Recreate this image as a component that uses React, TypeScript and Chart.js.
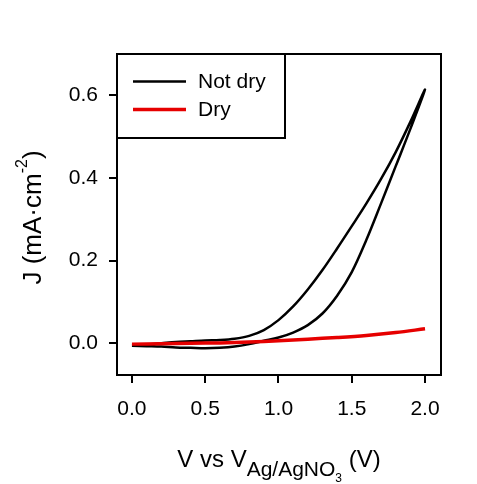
import React, { useEffect, useRef } from "react";
import { Chart, registerables } from "chart.js";

Chart.register(...registerables);

const FONT = "'Liberation Sans', Arial, sans-serif";

// Not dry: forward scan 0 -> 2 V, then reverse 2 -> 0 V
const NOT_DRY_V = [
  0, 0.1, 0.2, 0.3, 0.4, 0.5, 0.6, 0.7, 0.8, 0.9, 1.0, 1.1, 1.2, 1.3, 1.4, 1.5, 1.6, 1.7, 1.8,
  1.9, 2.0,
  1.9, 1.8, 1.7, 1.6, 1.5, 1.4, 1.3, 1.2, 1.1, 1.0, 0.9, 0.8, 0.7, 0.6, 0.5, 0.4, 0.3, 0.2, 0.1,
  0.0,
];
const NOT_DRY_J = [
  -0.006, -0.007, -0.008, -0.01, -0.011, -0.012, -0.011, -0.008, -0.002, 0.006, 0.014, 0.026,
  0.044, 0.072, 0.115, 0.172, 0.25, 0.338, 0.428, 0.518, 0.613,
  0.535, 0.462, 0.397, 0.338, 0.283, 0.229, 0.177, 0.13, 0.089, 0.056, 0.032, 0.018, 0.011, 0.008,
  0.007, 0.005, 0.003, 0.0, -0.003, -0.006,
];

// Dry
const DRY_V = [0, 0.2, 0.4, 0.6, 0.8, 1.0, 1.2, 1.4, 1.6, 1.8, 2.0];
const DRY_J = [-0.002, -0.001, 0.0, 0.001, 0.003, 0.006, 0.01, 0.014, 0.019, 0.026, 0.035];

const SERIES_LABELS = ["Not dry", "Dry"];
const SERIES_COLORS = ["#000000", "#e60000"];
const SERIES_WIDTHS = [2.5, 3.5];

const X_TICKS = [0, 0.5, 1.0, 1.5, 2.0];
const Y_TICKS = [0, 0.2, 0.4, 0.6];

const toPoints = (xs: number[], ys: number[]) => xs.map((x, i) => ({ x, y: ys[i] }));

const decorPlugin = {
  id: "decor",
  afterDraw(chart: any) {
    const { ctx, chartArea: a } = chart;
    ctx.save();
    // plot frame
    ctx.strokeStyle = "#000";
    ctx.lineWidth = 2;
    ctx.strokeRect(a.left, a.top, a.right - a.left, a.bottom - a.top);

    // legend
    const lx = a.left, ly = a.top;
    ctx.fillStyle = "#fff";
    ctx.fillRect(lx, ly, 168, 84);
    ctx.strokeRect(lx, ly, 168, 84);
    const rows = [81.5, 109.5];
    SERIES_LABELS.forEach((lab, i) => {
      ctx.strokeStyle = SERIES_COLORS[i];
      ctx.lineWidth = SERIES_WIDTHS[i];
      ctx.beginPath();
      ctx.moveTo(133, rows[i]);
      ctx.lineTo(186, rows[i]);
      ctx.stroke();
      ctx.fillStyle = "#000";
      ctx.font = `21px ${FONT}`;
      ctx.textAlign = "left";
      ctx.textBaseline = "middle";
      ctx.fillText(lab, 198, rows[i] + 1);
    });

    // x title: V vs V_{Ag/AgNO3} (V)
    ctx.fillStyle = "#000";
    ctx.textBaseline = "alphabetic";
    ctx.textAlign = "left";
    const parts = [
      { t: "V vs V", s: 24, b: 466.5 },
      { t: "Ag/AgNO", s: 21, b: 475.5 },
      { t: "3", s: 12, b: 481.5 },
      { t: " (V)", s: 24, b: 466.5 },
    ];
    let total = 0;
    parts.forEach((p) => {
      ctx.font = `${p.s}px ${FONT}`;
      total += ctx.measureText(p.t).width;
    });
    let x = (a.left + a.right) / 2 - total / 2;
    parts.forEach((p) => {
      ctx.font = `${p.s}px ${FONT}`;
      ctx.fillText(p.t, x, p.b);
      x += ctx.measureText(p.t).width;
    });

    // y title: J (mA·cm^-2)
    ctx.save();
    ctx.translate(41, 217.5);
    ctx.rotate(-Math.PI / 2);
    const yparts = [
      { t: "J (mA·cm", s: 26, r: 0 },
      { t: "-2", s: 16, r: 14 },
      { t: ")", s: 26, r: 0 },
    ];
    let yt = 0;
    yparts.forEach((p) => {
      ctx.font = `${p.s}px ${FONT}`;
      yt += ctx.measureText(p.t).width;
    });
    let yx = -yt / 2;
    yparts.forEach((p) => {
      ctx.font = `${p.s}px ${FONT}`;
      ctx.fillText(p.t, yx, -p.r);
      yx += ctx.measureText(p.t).width;
    });
    ctx.restore();
    ctx.restore();
  },
};

export default function App() {
  const ref = useRef<HTMLCanvasElement>(null);
  useEffect(() => {
    if (!ref.current) return;
    const chart = new Chart(ref.current, {
      type: "line",
      data: {
        datasets: [
          {
            label: SERIES_LABELS[0],
            data: toPoints(NOT_DRY_V, NOT_DRY_J),
            borderColor: SERIES_COLORS[0],
            borderWidth: SERIES_WIDTHS[0],
            pointRadius: 0,
            tension: 0.35,
            fill: false,
            order: 1,
          },
          {
            label: SERIES_LABELS[1],
            data: toPoints(DRY_V, DRY_J),
            borderColor: SERIES_COLORS[1],
            borderWidth: SERIES_WIDTHS[1],
            pointRadius: 0,
            tension: 0.35,
            fill: false,
            order: 0,
          },
        ],
      },
      options: {
        responsive: false,
        animation: false,
        layout: { padding: { top: 54, right: 36, left: 0, bottom: 0 } },
        plugins: { legend: { display: false }, tooltip: { enabled: false } },
        scales: {
          x: {
            type: "linear",
            min: -0.102,
            max: 2.109,
            afterBuildTicks: (s: any) => {
              s.ticks = X_TICKS.map((v) => ({ value: v }));
            },
            afterFit: (s: any) => {
              s.height = 109;
            },
            ticks: {
              callback: (v: any) => Number(v).toFixed(1),
              font: { family: FONT, size: 21 },
              color: "#000",
              padding: 14,
              maxRotation: 0,
              autoSkip: false,
            },
            grid: { drawOnChartArea: false, tickLength: 8, color: "#000", lineWidth: 2 },
            border: { display: false },
          },
          y: {
            type: "linear",
            min: -0.0766,
            max: 0.699,
            afterBuildTicks: (s: any) => {
              s.ticks = Y_TICKS.map((v) => ({ value: v }));
            },
            afterFit: (s: any) => {
              s.width = 117;
            },
            ticks: {
              callback: (v: any) => Number(v).toFixed(1),
              font: { family: FONT, size: 21 },
              color: "#000",
              padding: 11,
              autoSkip: false,
            },
            grid: { drawOnChartArea: false, tickLength: 8, color: "#000", lineWidth: 2 },
            border: { display: false },
          },
        },
      },
      plugins: [decorPlugin],
    });
    return () => chart.destroy();
  }, []);
  return (
    <div style={{ position: "absolute", left: 0, top: 0, width: 477, height: 484, background: "#fff" }}>
      <canvas ref={ref} width={477} height={484} />
    </div>
  );
}
